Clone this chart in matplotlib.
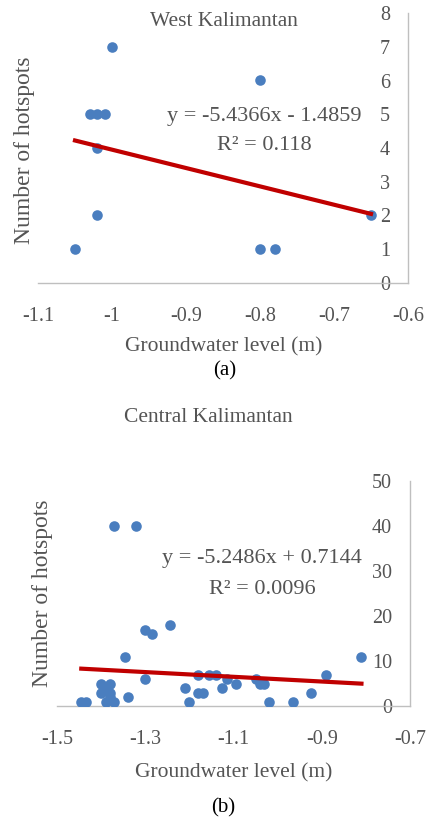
import numpy as np
import matplotlib
matplotlib.use("Agg")
import matplotlib.pyplot as plt

# West Kalimantan (panel a)
west_gwl = [-1.05, -1.02, -1.02, -1.03, -1.02, -1.01, -1.00, -0.80, -0.80, -0.78, -0.65]
west_hot = [1, 2, 4, 5, 5, 5, 7, 6, 1, 1, 2]
west_coef = (-5.4366, -1.4859)
west_xticks = [-1.1, -1.0, -0.9, -0.8, -0.7, -0.6]
west_xlabels = ["-1.1", "-1", "-0.9", "-0.8", "-0.7", "-0.6"]
west_yticks = [0, 1, 2, 3, 4, 5, 6, 7, 8]

# Central Kalimantan (panel b)
central_gwl = [-1.445, -1.435, -1.40, -1.38, -1.40, -1.39, -1.38, -1.39, -1.37, -1.38,
               -1.345, -1.34, -1.37, -1.32, -1.30, -1.285, -1.30, -1.245, -1.21, -1.20,
               -1.18, -1.18, -1.17, -1.155, -1.14, -1.125, -1.115, -1.095, -1.05, -1.04,
               -1.03, -1.02, -0.965, -0.925, -0.89, -0.81]
central_hot = [1, 1, 5, 5, 3, 4, 3, 1, 1, 2,
               11, 2, 40, 40, 17, 16, 6, 18, 4, 1,
               7, 3, 3, 7, 7, 4, 6, 5, 6, 5,
               5, 1, 1, 3, 7, 11]
central_coef = (-5.2486, 0.7144)
central_xticks = [-1.5, -1.3, -1.1, -0.9, -0.7]
central_xlabels = ["-1.5", "-1.3", "-1.1", "-0.9", "-0.7"]
central_yticks = [0, 10, 20, 30, 40, 50]

W, H = 427, 822
GRAY = "#545454"
AXIS = "#BFBFBF"
BLUE = "#4A7EBF"
RED = "#C00000"
plt.rcParams["font.family"] = ["Liberation Serif", "DejaVu Serif"]

fig = plt.figure(figsize=(W / 100, H / 100), dpi=100)


def px(x, y):
    # pixel coords (top-left origin) -> figure fraction
    return x / W, 1 - y / H


def panel(rect, gx, hs, coef, xticks, xlabels, yticks, xlim, ylim):
    x0, y0, x1, y1 = rect
    ax = fig.add_axes([x0 / W, 1 - y1 / H, (x1 - x0) / W, (y1 - y0) / H])
    ax.scatter(gx, hs, s=58, color=BLUE, zorder=3, linewidths=0)
    xs = np.array([min(gx), max(gx)])
    ax.plot(xs, coef[0] * xs + coef[1], color=RED, lw=3.0, zorder=4)
    ax.set_xlim(*xlim)
    ax.set_ylim(*ylim)
    ax.set_xticks(xticks)
    ax.set_xticklabels(xlabels)
    ax.yaxis.tick_right()
    ax.set_yticks(yticks)
    ax.set_yticklabels([str(v) for v in yticks], ha="right")
    for s in ["left", "top"]:
        ax.spines[s].set_visible(False)
    for s in ["right", "bottom"]:
        ax.spines[s].set_color(AXIS)
        ax.spines[s].set_linewidth(1.0)
    ax.tick_params(axis="y", length=0, pad=-13, labelsize=14.5, labelcolor=GRAY)
    ax.tick_params(axis="x", length=0, pad=17, labelsize=14.5, labelcolor=GRAY)
    ax.patch.set_alpha(0)
    return ax


axa = panel((38, 13, 408, 283), west_gwl, west_hot, west_coef,
            west_xticks, west_xlabels, west_yticks, (-1.1, -0.6), (0, 8))
axb = panel((57, 481, 410, 706), central_gwl, central_hot, central_coef,
            central_xticks, central_xlabels, central_yticks, (-1.5, -0.7), (0, 50))

txt = dict(color=GRAY, ha="center", va="center")
fig.text(*px(224, 21), "West Kalimantan", fontsize=15.5, **txt)
fig.text(*px(25, 150), "Number of hotspots", fontsize=17, rotation=90, **txt)
fig.text(*px(224, 347), "Groundwater level (m)", fontsize=15.5, **txt)
fig.text(*px(225, 371), "(a)", fontsize=15, color="black", ha="center", va="center")
fig.text(*px(264, 117), "y = -5.4366x - 1.4859", fontsize=16, **txt)
fig.text(*px(264, 145), "R² = 0.118", fontsize=16, **txt)

fig.text(*px(208, 417), "Central Kalimantan", fontsize=15.5, **txt)
fig.text(*px(43, 593), "Number of hotspots", fontsize=17, rotation=90, **txt)
fig.text(*px(234, 773), "Groundwater level (m)", fontsize=15.5, **txt)
fig.text(*px(223, 808), "(b)", fontsize=15, color="black", ha="center", va="center")
fig.text(*px(262, 558), "y = -5.2486x + 0.7144", fontsize=16, **txt)
fig.text(*px(262, 589), "R² = 0.0096", fontsize=16, **txt)

fig.savefig("out.png", dpi=100, facecolor="white")
